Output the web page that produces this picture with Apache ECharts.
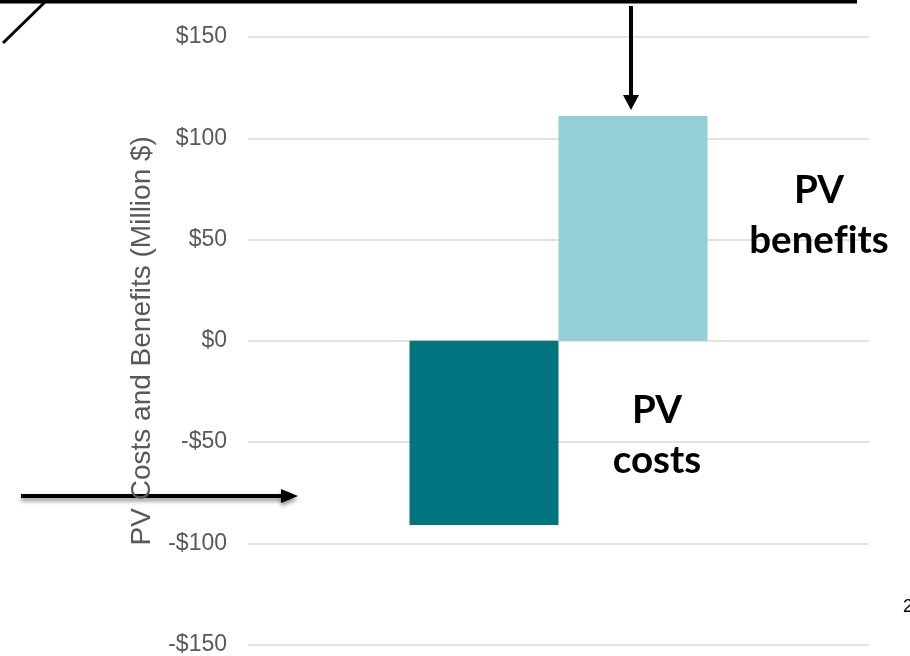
<!DOCTYPE html>
<html>
<head>
<meta charset="utf-8">
<script src="https://cdn.jsdelivr.net/npm/echarts@6/dist/echarts.min.js"></script>
<style>
  html, body { margin: 0; padding: 0; background: #ffffff; }
  #chart { width: 910px; height: 656px; }
</style>
</head>
<body>
<div id="chart"></div>
<script>
// Present-value costs and benefits (million $)
const categories = ['Project'];
const pvCosts = [-91];
const pvBenefits = [111];
const yTicks = [-150, -100, -50, 0, 50, 100, 150];
const axisTitle = 'PV Costs and Benefits (Million $)';

const chart = echarts.init(document.getElementById('chart'), null, { renderer: 'canvas' });

function money(v) {
  return (v < 0 ? '-$' : '$') + Math.abs(v);
}

const arrowStroke = { stroke: '#000000', lineWidth: 4 };
const arrowShadow = { shadowColor: 'rgba(0,0,0,0.45)', shadowBlur: 4, shadowOffsetY: 3 };
const calloutFont = 'bold 38.5px Lato';

chart.setOption({
  animation: false,
  backgroundColor: '#ffffff',
  grid: { left: 248, right: 41, top: 37, bottom: 10, containLabel: false },
  xAxis: {
    type: 'category',
    data: categories,
    axisLine: { show: false },
    axisTick: { show: false },
    axisLabel: { show: false },
    splitLine: { show: false }
  },
  yAxis: {
    type: 'value',
    min: yTicks[0],
    max: yTicks[yTicks.length - 1],
    interval: yTicks[1] - yTicks[0],
    name: axisTitle,
    nameLocation: 'middle',
    nameGap: 92,
    nameTextStyle: { fontFamily: 'Liberation Sans, Arial', fontSize: 28, color: '#595959' },
    axisLine: { show: false },
    axisTick: { show: false },
    axisLabel: {
      formatter: money,
      fontFamily: 'Liberation Sans, Arial',
      fontSize: 23,
      color: '#595959',
      margin: 21
    },
    splitLine: { lineStyle: { color: '#d9d9d9', width: 1.5 } }
  },
  series: [
    {
      name: 'PV costs',
      type: 'bar',
      data: pvCosts,
      barWidth: 149,
      barGap: '0%',
      itemStyle: { color: '#00747f' }
    },
    {
      name: 'PV benefits',
      type: 'bar',
      data: pvBenefits,
      barWidth: 149,
      barGap: '0%',
      itemStyle: { color: '#93cfd6' }
    }
  ],
  graphic: [
    // heavy rule along the top edge
    { type: 'line', shape: { x1: 0, y1: 1.5, x2: 857, y2: 1.5 }, style: { stroke: '#000', lineWidth: 4 }, z: 10 },
    // diagonal stroke at the upper left
    { type: 'line', shape: { x1: 3, y1: 43, x2: 45, y2: 2 }, style: { stroke: '#000', lineWidth: 3 }, z: 10 },
    // downward arrow onto the benefits bar
    { type: 'line', shape: { x1: 631, y1: 6, x2: 631, y2: 97 }, style: arrowStroke, z: 10 },
    { type: 'polygon', shape: { points: [[623, 95], [639, 95], [631, 110]] }, style: { fill: '#000' }, z: 10 },
    // rightward arrow toward the axis
    {
      type: 'group', z: 10,
      children: [
        { type: 'line', shape: { x1: 21, y1: 496, x2: 284, y2: 496 },
          style: Object.assign({ stroke: '#000', lineWidth: 4 }, arrowShadow) },
        { type: 'polygon', shape: { points: [[281, 489], [281, 503], [298, 496]] },
          style: Object.assign({ fill: '#000' }, arrowShadow) }
      ]
    },
    // bar callouts ("f" drawn as its own run so it does not ligate with "i")
    { type: 'text', x: 819, y: 216, z: 10,
      style: {
        text: 'PV\nbene{f|f}its', fill: '#000', font: calloutFont,
        textAlign: 'center', textVerticalAlign: 'middle', lineHeight: 50,
        rich: { f: { font: calloutFont, fill: '#000', lineHeight: 50 } }
      } },
    { type: 'text', x: 657, y: 436, z: 10,
      style: { text: 'PV\ncosts', fill: '#000', font: calloutFont, textAlign: 'center', textVerticalAlign: 'middle', lineHeight: 50 } },
    // page number
    { type: 'text', x: 903, y: 607, z: 10,
      style: { text: '2', fill: '#000', font: '18px Liberation Sans', textAlign: 'left', textVerticalAlign: 'middle' } }
  ]
});
</script>
</body>
</html>
